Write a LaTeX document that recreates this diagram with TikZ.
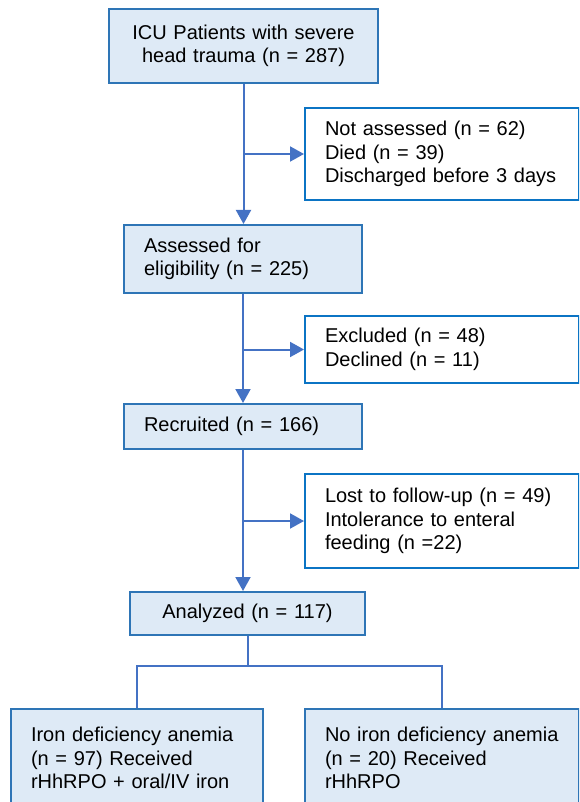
\documentclass[tikz,border=0pt]{standalone}
\usepackage{fontspec}
\setmainfont{Liberation Sans}
\usetikzlibrary{arrows.meta}
\definecolor{boxfill}{HTML}{DEEAF6}
\definecolor{boxline}{HTML}{2E75B6}
\definecolor{sideline}{HTML}{0B74C4}
\definecolor{flowline}{HTML}{4472C4}
\begin{document}
\begin{tikzpicture}[x=1pt,y=-1pt,
	font=\fontsize{20}{23.5}\selectfont,
	mainbox/.style={draw=boxline,fill=boxfill,line width=2pt,anchor=north west,inner xsep=20pt,inner ysep=0pt},
	sidebox/.style={draw=sideline,fill=white,line width=2pt,anchor=north west,inner xsep=20pt,inner ysep=0pt,align=left,text width=234pt},
	flow/.style={flowline,line width=2pt,-{Triangle[length=14pt,width=15pt]}},
	split/.style={flowline,line width=2pt}]
			\useasboundingbox (0,0) rectangle (579,802);
			\clip (0,0) rectangle (579,802);
			\node[mainbox,text width=229pt,minimum height=74pt,align=center] (icu) at (108,8) {ICU Patients with severe\\head trauma (n = 287)};
			\node[sidebox,minimum height=92pt] (notass) at (304,107) {Not assessed (n = 62)\\Died (n = 39)\\Discharged before 3 days};
			\node[mainbox,text width=198pt,minimum height=68pt,align=left] (assess) at (123,224) {Assessed for\\eligibility (n = 225)};
			\node[sidebox,minimum height=67pt] (excl) at (304,315) {Excluded (n = 48)\\Declined (n = 11)};
			\node[mainbox,text width=198pt,minimum height=45pt,align=left] (recr) at (123,403) {Recruited (n = 166)};
			\node[sidebox,minimum height=94pt] (lost) at (304,473) {Lost to follow-up (n = 49)\\Intolerance to enteral\\feeding (n =22)};
			\node[mainbox,text width=195pt,minimum height=43pt,align=center] (anal) at (129,591) {Analyzed (n = 117)};
			\node[mainbox,text width=212pt,minimum height=98pt,align=left] (iron) at (10,708) {Iron deficiency anemia\\(n = 97) Received\\rHhRPO + oral/IV iron};
			\node[mainbox,text width=234pt,minimum height=98pt,align=left] (noiron) at (304,708) {No iron deficiency anemia\\(n = 20) Received\\rHhRPO};
			\foreach \a/\b in {icu/assess,assess/recr,recr/anal}{ \draw[flow] (\a.south) -- (\a.south |- \b.north); }
			\foreach \a/\b in {icu/notass,assess/excl,recr/lost}{ \draw[flow] (\a.south |- \b.west) -- (\b.west); }
			\draw[split] (anal.south) -- ++(0,30) coordinate (fork);
			\draw[split] (iron.north) |- (fork) -| (noiron.north);
		\end{tikzpicture}
\end{document}
